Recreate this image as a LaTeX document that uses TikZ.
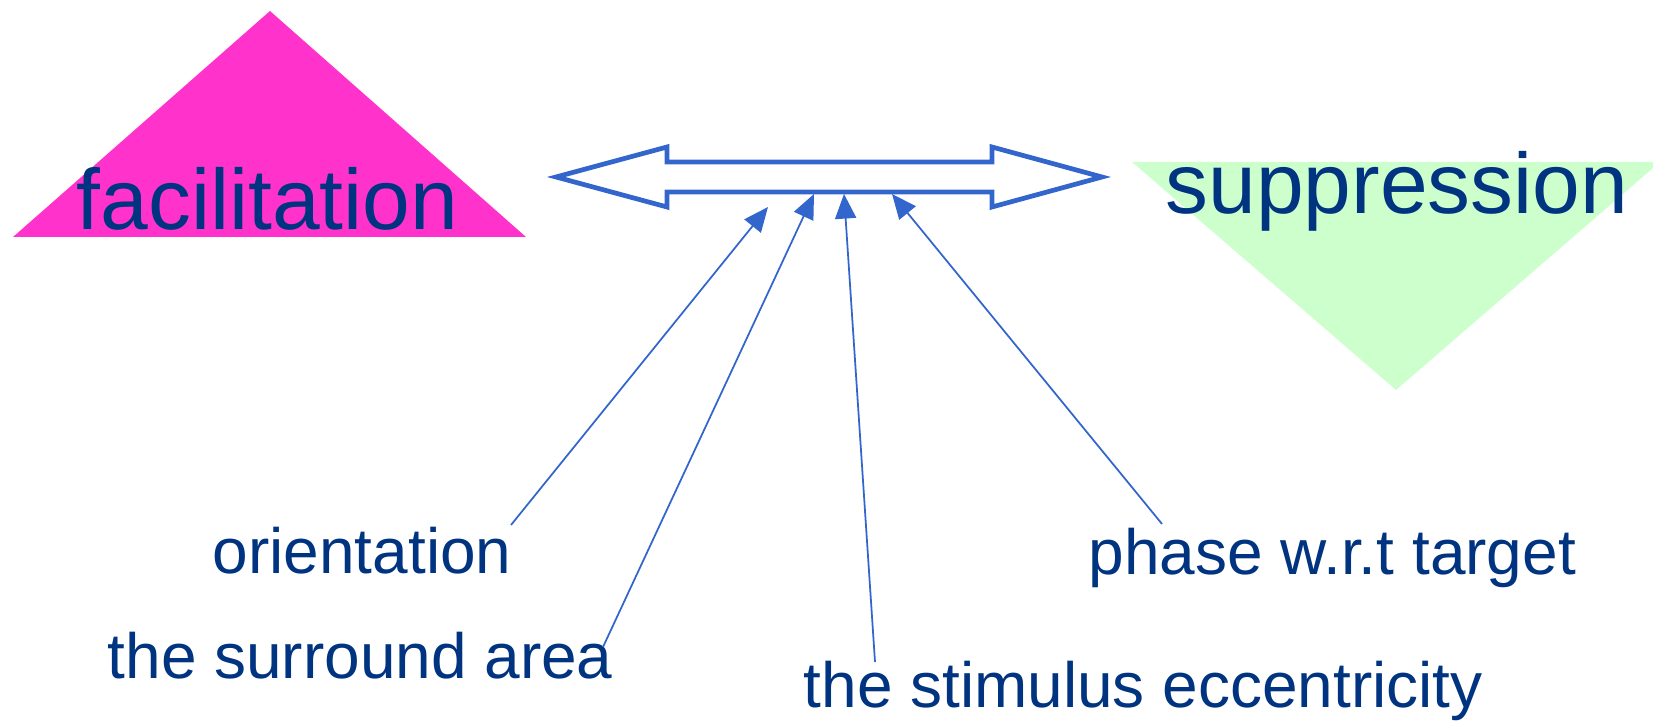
\documentclass[tikz,border=0pt]{standalone}
\usepackage{fontspec}
\setmainfont{Liberation Sans}
\usepackage{xcolor}
\usepackage{tikz}
\usetikzlibrary{arrows.meta}

\definecolor{navy}{RGB}{0,51,128}
\definecolor{linkblue}{RGB}{51,102,204}
\definecolor{facpink}{RGB}{255,51,204}
\definecolor{supgreen}{RGB}{204,255,204}

\begin{document}
\begin{tikzpicture}[x=0.1mm,y=-0.1mm,
  big/.style={text=navy,inner sep=0pt,anchor=base west,font=\fontsize{24.4}{28}\selectfont},
  lbl/.style={text=navy,inner sep=0pt,anchor=base west,font=\fontsize{18.2}{22}\selectfont},
  link/.style={draw=linkblue,line width=0.5pt,-{Triangle[length=7pt,width=6pt]}}]
\useasboundingbox (0,0) rectangle (1653,725);

\fill[facpink] (13,237) -- (270,11) -- (526,237) -- cycle;
\fill[supgreen] (1132,162) -- (1660,162) -- (1396,390) -- cycle;

\node[big] (fac) at (76,230) {facilitation};
\node[big] (sup) at (1165,214) {suppression};

% double arrow
\draw[linkblue,line width=1.35pt] (556,177) -- (667,147) -- (667,162) -- (992,162)
  -- (992,147) -- (1102,177) -- (992,207) -- (992,192) -- (667,192) -- (667,207) -- cycle;
\coordinate (oriTip) at (768,207);
\coordinate (surTip) at (814,194);
\coordinate (stimTip) at (844,194);
\coordinate (phaTip) at (892,194);

\node[lbl] (ori) at (212,574) {orientation};
\node[lbl] (sur) at (107,679) {the surround area};
\node[lbl] (stim) at (803,708) {the stimulus eccentricity};
\node[lbl] (pha) at (1088,575) {phase w.r.t target};

\coordinate (oriFoot) at (511,525);
\coordinate (surFoot) at (603,647);
\coordinate (stimFoot) at (875,662);
\coordinate (phaFoot) at (1162,524);

\draw[link] (oriFoot) -- (oriTip);
\draw[link] (surFoot) -- (surTip);
\draw[link] (stimFoot) -- (stimTip);
\draw[link] (phaFoot) -- (phaTip);
\end{tikzpicture}
\end{document}
